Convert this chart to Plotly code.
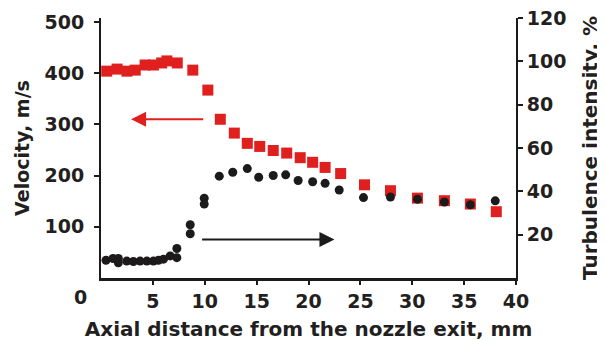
import plotly.graph_objects as go

# Velocity (left axis, m/s) - red squares
vel_x = [0.55, 1.55, 2.5, 3.3, 4.25, 5.05, 5.85, 6.35, 7.35, 8.85, 10.3,
         11.5, 12.85, 14.1, 15.3, 16.6, 17.9, 19.2, 20.4, 21.6, 23.1,
         25.4, 27.9, 30.5, 33.1, 35.6, 38.1]
vel = [404, 408, 404, 406, 416, 416, 420, 424, 420, 406, 367,
       310, 283, 263, 257, 249, 244, 235, 226, 216, 204,
       182, 170.5, 156, 151, 144.5, 129.5]

# Turbulence intensity (right axis, %) - black dots
turb_x = [0.48, 1.16, 1.67, 1.67, 2.48, 3.12, 3.77, 4.42, 5.05, 5.54, 6.02, 6.67, 7.31, 7.31,
          8.6, 8.6, 9.95, 9.95,
          11.4, 12.7, 14.1, 15.2, 16.6, 17.8, 19.0, 20.4, 21.6, 22.96,
          25.3, 27.9, 30.5, 33.1, 35.6, 38.0]
turb = [8.2, 9.0, 9.0, 7.0, 7.8, 7.6, 7.8, 7.8, 7.8, 8.2, 8.7, 10.2, 13.6, 9.4,
        24.6, 20.4, 36.8, 34.1,
        47.0, 48.8, 50.5, 46.5, 47.3, 47.6, 45.0, 44.4, 43.7, 40.6,
        37.1, 37.4, 36.4, 35.1, 33.8, 35.6]

x_ticks = [5, 10, 15, 20, 25, 30, 35, 40]
vel_ticks = [100, 200, 300, 400, 500]
turb_ticks = [20, 40, 60, 80, 100, 120]

RED = "#e0201f"
BLACK = "#1c1a1a"
TXT = "#231f20"
FONT = "DejaVu Sans"

fig = go.Figure()
fig.add_trace(go.Scatter(x=vel_x, y=vel, mode="markers", yaxis="y",
                         marker=dict(symbol="square", size=11, color=RED,
                                     line=dict(width=0))))
fig.add_trace(go.Scatter(x=turb_x, y=turb, mode="markers", yaxis="y2",
                         marker=dict(symbol="circle", size=9, color=BLACK,
                                     line=dict(width=0))))

tickfont = dict(family=FONT, size=19, color=TXT, weight="bold")

def tfont(size):
    return dict(family=FONT, size=size, color=TXT, weight="bold")

fig.update_layout(
    width=597, height=343,
    margin=dict(l=93, r=89, t=10, b=73),
    paper_bgcolor="white", plot_bgcolor="white",
    showlegend=False,
    font=dict(family=FONT, color=TXT),
    xaxis=dict(range=[0, 40], tickvals=x_ticks, showgrid=False, zeroline=False,
               automargin=False,
               showline=True, linecolor=BLACK, linewidth=3,
               ticks="outside", ticklen=4, tickcolor=BLACK, tickwidth=2,
               tickfont=tickfont, ticklabeloverflow="allow",
               title=dict(text="Axial distance from the nozzle exit, mm",
                          font=tfont(20), standoff=12)),
    yaxis=dict(range=[0, 507.8], tickvals=vel_ticks, showgrid=False, zeroline=False,
               automargin=False,
               showline=True, linecolor=BLACK, linewidth=2,
               ticks="outside", ticklen=5, tickcolor=BLACK, tickwidth=2,
               tickfont=tickfont, ticklabelstandoff=6, ticklabeloverflow="allow",
               title=dict(text="Velocity, m/s", font=tfont(19), standoff=10)),
    yaxis2=dict(range=[0, 120], tickvals=turb_ticks, overlaying="y", side="right",
                showgrid=False, zeroline=False, automargin=False,
                showline=True, linecolor=BLACK, linewidth=2,
                ticks="outside", ticklen=5, tickcolor=BLACK, tickwidth=2,
                tickfont=tickfont, ticklabeloverflow="allow",
                title=dict(text="Turbulence intensity, %", font=tfont(20), standoff=18)),
)

# "0" label at origin of x axis
fig.add_annotation(x=0, y=0, xref="x", yref="y", text="0", showarrow=False,
                   font=tickfont, xshift=-21, yshift=-19)

# arrows
fig.add_annotation(x=2.9, y=310, xref="x", yref="y", ax=10.0, ay=310,
                   axref="x", ayref="y", text="", showarrow=True,
                   arrowhead=2, arrowsize=1.5, arrowwidth=2, arrowcolor=RED)
fig.add_annotation(x=22.5, y=17.8, xref="x", yref="y2", ax=9.6, ay=17.8,
                   axref="x", ayref="y2", text="", showarrow=True,
                   arrowhead=2, arrowsize=1.5, arrowwidth=2, arrowcolor=BLACK)

fig.write_html("out.html")
